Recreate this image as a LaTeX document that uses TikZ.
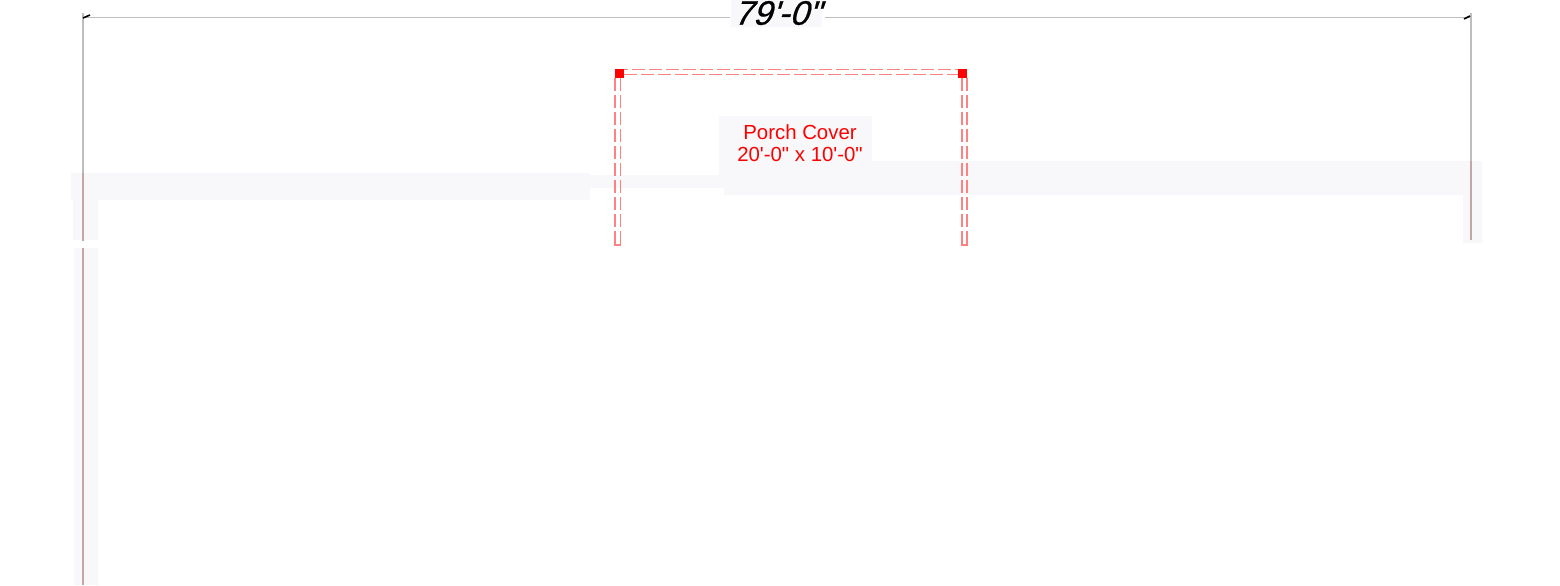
\documentclass[tikz,border=0pt]{standalone}
\usepackage{fontspec}
\setmainfont{Liberation Sans}
\newfontfamily\dimfont[FakeSlant=0.3,FakeBold=0.6]{Liberation Sans}
\usepackage{tikz}
\newcommand{\ftmark}{\textquotesingle}
\newcommand{\inmark}{\textquotedbl}
\definecolor{bandgray}{HTML}{F8F8FA}
\definecolor{dimgray}{HTML}{BEBEBE}
\definecolor{wallred}{HTML}{C4A6A6}
\definecolor{porchred}{HTML}{FF8282}
\tikzset{
  band/.style={fill=bandgray,draw=none},
  dimline/.style={draw=dimgray,line width=0.5pt},
  dimwall/.style={draw=dimgray,line width=0.9pt},
  wallline/.style={draw=wallred,line width=1pt},
  tickmark/.style={draw=black,line width=0.8pt},
  porchline/.style={draw=porchred,line width=0.9pt,dash pattern=on 6.5pt off 2pt},
  porchend/.style={draw=porchred,line width=0.9pt},
  porchpost/.style={fill=red,draw=none}
}
\begin{document}
\begin{tikzpicture}[x=0.5pt,y=-0.5pt]
\useasboundingbox (0,0) rectangle (1560,585);
% walls
\fill[band] (71,173) -- (590,173) -- (590,175) -- (719,175) -- (719,116) -- (872,116) -- (872,161) -- (1482,161) -- (1482,243) -- (1463,243) -- (1463,195) -- (724,195) -- (724,188) -- (590,188) -- (590,200) -- (98,200) -- (98,240) -- (73,240) -- (73,200) -- (71,200) -- cycle;
\fill[band] (74,248) rectangle (98,585);
\fill[band] (731,0) rectangle (822,27);
% dimension
\draw[dimline] (83,17) -- (730,17);
\draw[dimline] (825,17) -- (1470,17);
\draw[dimwall] (83,13) -- (83,173);
\draw[dimwall] (1471,13) -- (1471,161);
\draw[tickmark] (83,18) -- (90,15);
\draw[tickmark] (1464,19) -- (1470,16);
\draw[wallline] (83,173) -- (83,241);
\draw[wallline] (83,248) -- (83,585);
\draw[wallline] (1471,161) -- (1471,240);
\node[font=\fontsize{17}{17}\dimfont,inner sep=0pt] (dimlabel) at (777,13) {79\ftmark-0\inmark};
% porch
\draw[porchline] (615,69.5) -- (967,69.5);
\draw[porchline] (624,74.5) -- (958,74.5);
\draw[porchline] (615,78) -- (615,234);
\draw[porchline] (620.5,78) -- (620.5,234);
\draw[porchline] (962,78) -- (962,234);
\draw[porchline] (967,78) -- (967,234);
\draw[porchend] (615,234) -- (615,245) -- (620.5,245) -- (620.5,234);
\draw[porchend] (962,234) -- (962,245) -- (967,245) -- (967,234);
\fill[porchpost] (615,69) rectangle (624,78);
\fill[porchpost] (958,69) rectangle (967,78);
\node[text=red,font=\fontsize{10.2}{11}\selectfont,align=center,inner sep=0pt] (porchlabel) at (800,143) {Porch Cover\\20\ftmark-0\inmark{} x 10\ftmark-0\inmark};
\end{tikzpicture}
\end{document}
